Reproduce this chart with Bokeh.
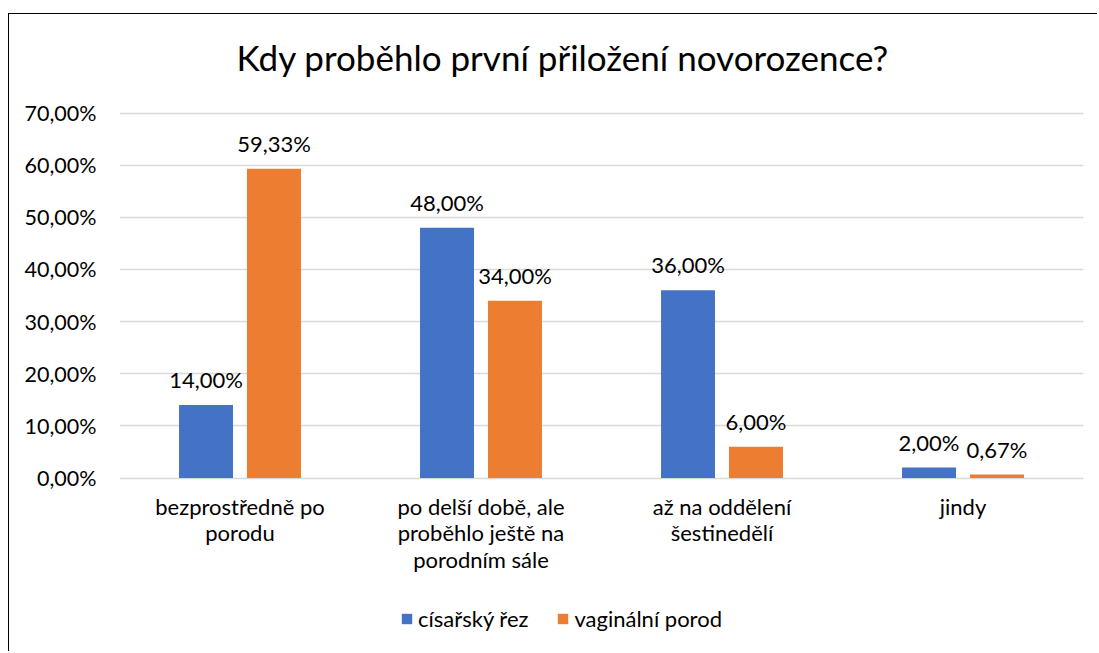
from bokeh.plotting import figure
from bokeh.models import ColumnDataSource, FactorRange, Legend, LegendItem, Range1d, FixedTicker, Label
from bokeh.transform import dodge
from bokeh.core.properties import value
from bokeh.embed import file_html
from bokeh.resources import INLINE

title = "Kdy proběhlo první přiložení novorozence?"
categories = ["bezprostředně po\nporodu",
              "po delší době, ale\nproběhlo ještě na\nporodním sále",
              "až na oddělení\nšestinedělí",
              "jindy"]
series_names = ["císařský řez", "vaginální porod"]
cisarsky = [14.00, 48.00, 36.00, 2.00]
vaginalni = [59.33, 34.00, 6.00, 0.67]
y_ticks = [0, 10, 20, 30, 40, 50, 60, 70]
colors = ["#4472C4", "#ED7D31"]

def fmt(v):
    return ("%.2f" % v).replace(".", ",") + "%"

src = ColumnDataSource(dict(
    cat=categories,
    a=cisarsky, b=vaginalni,
    la=[fmt(v) for v in cisarsky],
    lb=[fmt(v) for v in vaginalni],
    base=[0] * len(categories),
))

FONT = "Lato"
FS = "22px"
# frame spans the whole inner height: 70 % sits 98.5 px below the top, 0 % 148 px above the bottom
p = figure(width=1089, height=638, x_range=FactorRange(*categories),
           y_range=Range1d(-31.16, 88.89), output_backend="svg", toolbar_location=None,
           min_border_left=110, min_border_right=15, min_border_top=0, min_border_bottom=12)
p.styles = {"border-left": "1.5px solid #000", "border-top": "1.5px solid #000",
            "margin-top": "13px", "margin-left": "8px"}

p.add_layout(Label(x=117, y=584, x_units="screen", y_units="screen", text=title,
                   text_font=FONT, text_font_size="35px", text_color="#000",
                   text_align="left", text_baseline="alphabetic"))

r1 = p.vbar(x=dodge("cat", -0.141, range=p.x_range), top="a", width=0.224, source=src,
            fill_color=colors[0], line_color=None)
r2 = p.vbar(x=dodge("cat", 0.141, range=p.x_range), top="b", width=0.224, source=src,
            fill_color=colors[1], line_color=None)
for col, ycol, off in (("la", "a", -0.141), ("lb", "b", 0.141)):
    p.text(x=dodge("cat", off, range=p.x_range), y=ycol,
           text=col, source=src, text_align="center", text_baseline="bottom",
           y_offset=-12, text_font=value(FONT), text_font_size=FS, text_color="#000")

# category labels under the zero line
p.text(x="cat", y="base", text="cat", source=src, text_align="center", text_baseline="top",
       y_offset=15, text_font=value(FONT), text_font_size=FS, text_color="#000",
       text_line_height=0.98)

p.outline_line_color = None
p.xgrid.grid_line_color = None
p.xaxis.visible = False
p.ygrid.grid_line_color = "#d9d9d9"
p.ygrid.grid_line_width = 1.5
p.ygrid.ticker = FixedTicker(ticks=y_ticks)
p.yaxis.ticker = FixedTicker(ticks=y_ticks)
p.yaxis.major_label_overrides = {t: fmt(t) for t in y_ticks}
p.yaxis.axis_line_color = None
p.yaxis.major_tick_line_color = None
p.yaxis.minor_tick_line_color = None
p.yaxis.major_label_standoff = 17
p.yaxis.major_label_text_font = FONT
p.yaxis.major_label_text_font_size = "21.5px"
p.yaxis.major_label_text_color = "#000"
p.x_range.range_padding = 0
p.x_range.group_padding = 0

legend = Legend(items=[LegendItem(label=series_names[0], renderers=[r1]),
                       LegendItem(label=series_names[1], renderers=[r2])],
                orientation="horizontal", location=(281, 8),
                label_text_font=FONT, label_text_font_size=FS, label_text_color="#000",
                glyph_width=13, glyph_height=13, spacing=28, label_standoff=5,
                padding=5, margin=0,
                border_line_color=None, background_fill_alpha=0)
p.add_layout(legend, "center")

open("out.html", "w").write(file_html(p, INLINE))
